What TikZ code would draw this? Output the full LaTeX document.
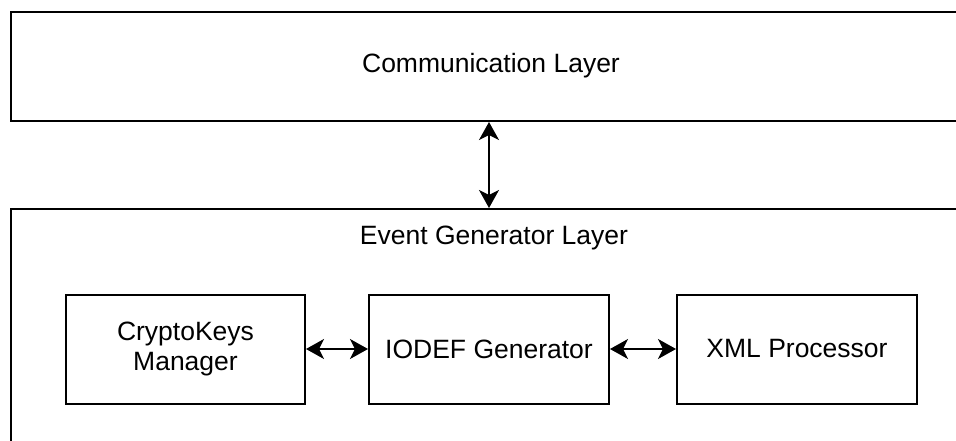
\documentclass[tikz,border=0pt]{standalone}
\usepackage{fontspec}
\setmainfont{Liberation Sans}
\usetikzlibrary{arrows.meta}
\begin{document}
\begin{tikzpicture}[x=1pt,y=-1pt,
  layerbox/.style={draw=black,line width=2pt,fill=white,anchor=north west,inner sep=0pt},
  compbox/.style={draw=black,line width=2pt,fill=white,minimum height=109pt,inner sep=0pt,align=center,
     font=\fontsize{26.5}{29.5}\selectfont},
  lbl/.style={font=\fontsize{26.5}{29.5}\selectfont,inner sep=0pt},
  biarrow/.style={line width=1.6pt,{Stealth[length=18pt,width=20pt,inset=5pt]}-{Stealth[length=18pt,width=20pt,inset=5pt]}}]
\useasboundingbox (0,0) rectangle (956,441);
\clip (0,0) rectangle (956,441);
\fill[white] (0,0) rectangle (956,441);
\node[layerbox,minimum width=968pt,minimum height=109pt] (comm) at (10,11) {};
\node[layerbox,minimum width=968pt,minimum height=260pt] (event) at (10,208) {};
\node[lbl] (commlbl) at (491,66) {Communication Layer};
\node[lbl] (eventlbl) at (494,238) {Event Generator Layer};
\node[compbox,minimum width=239pt] (crypto) at (185.5,349) {CryptoKeys\\Manager};
\node[compbox,minimum width=240pt] (iodef) at (489,349) {IODEF Generator};
\node[compbox,minimum width=240pt] (xml) at (797,349) {XML Processor};
\coordinate (ax) at (489,0);
\draw[biarrow] (comm.south -| ax) -- (event.north -| ax);
\draw[biarrow] (crypto) -- (iodef);
\draw[biarrow] (iodef) -- (xml);
\end{tikzpicture}
\end{document}
